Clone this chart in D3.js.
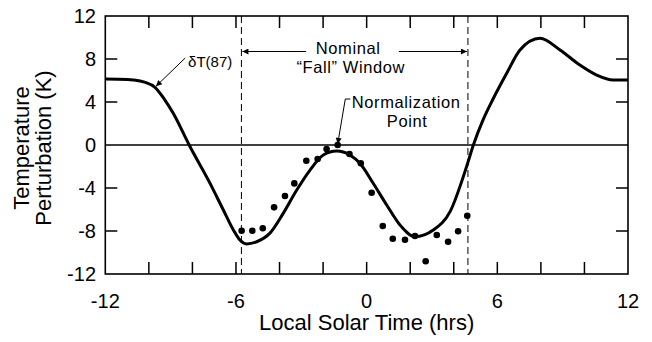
<!DOCTYPE html>
<html>
<head>
<meta charset="utf-8">
<script src="https://cdn.jsdelivr.net/npm/d3@7"></script>
<style>
  body { margin: 0; background: #fff; }
  svg { display: block; font-family: "Liberation Sans", Arial, Helvetica, sans-serif; }
</style>
</head>
<body>
<svg id="chart" width="652" height="342"></svg>
<script>
// model curve dT(87)
const curveHours = [-12, -11, -10.7, -10.2, -9.72, -9.3, -8.88, -8.15, -7.19, -6.58, -6.12, -5.82, -5.51, -5.05,
  -4.44, -3.83, -3.21, -2.6, -1.99, -1.38, -0.77, -0.31, 0.3, 0.92, 1.53, 2.22, 3.06, 3.83, 4.59, 4.9,
  5.36, 5.81, 6.43, 7.04, 7.96, 8.88, 9.79, 10.56, 11.32, 12];
const curveTemps = [6.15, 6.1, 6.05, 5.85, 5.37, 4.3, 2.95, 0, -3.57, -6.05, -7.9, -8.84, -9.2, -9.0,
  -8.2, -6.36, -4.19, -2.33, -0.93, -0.56, -0.93, -1.7, -3.56, -5.58, -7.44, -8.53, -7.91, -6.2, -2.0, 0,
  2.4, 4.3, 6.67, 8.84, 9.93, 8.84, 7.44, 6.51, 6.05, 6.05];

// measured points (dots)
const obsHours = [-5.74, -5.25, -4.77, -4.25, -3.75, -3.32, -2.77, -2.25, -1.84, -1.33, -0.79, -0.27,
  0.23, 0.74, 1.2, 1.76, 2.22, 2.71, 3.22, 3.74, 4.2, 4.62];
const obsTemps = [-7.97, -7.97, -7.75, -5.8, -4.74, -3.57, -1.46, -1.3, -0.37, 0.0, -0.84, -1.7,
  -4.44, -7.53, -8.72, -8.81, -8.47, -10.82, -8.37, -9.0, -8.03, -6.58];

const xTickLabels = [-12, -6, 0, 6, 12];
const yTickLabels = [12, 8, 4, 0, -4, -8, -12];
const windowHours = [-5.75, 4.65]; // nominal "fall" window
const normPoint = [-1.33, 0];

const svg = d3.select('#chart');

const x = d3.scaleLinear().domain([-12, 12]).range([105.3, 628]);
const y = d3.scaleLinear().domain([-12, 12]).range([274, 16]);

// arrow head
svg.append('defs').append('marker')
  .attr('id', 'head')
  .attr('viewBox', '0 0 10 10')
  .attr('refX', 10).attr('refY', 5)
  .attr('markerWidth', 9).attr('markerHeight', 6)
  .attr('markerUnits', 'userSpaceOnUse')
  .attr('orient', 'auto')
  .append('path')
  .attr('d', 'M0,0L10,5L0,10Z')
  .attr('fill', '#000');

// ticks, inward on all four sides
const tickLen = 12;
const g = svg.append('g');

g.selectAll('.xt-b')
  .data(d3.range(-10, 12, 2))
  .enter().append('line')
  .attr('x1', d => x(d)).attr('x2', d => x(d))
  .attr('y1', y(-12)).attr('y2', y(-12) - tickLen)
  .attr('stroke', '#000').attr('stroke-width', 1.5);

g.selectAll('.xt-t')
  .data(d3.range(-10, 12, 2))
  .enter().append('line')
  .attr('x1', d => x(d)).attr('x2', d => x(d))
  .attr('y1', y(12)).attr('y2', y(12) + tickLen)
  .attr('stroke', '#000').attr('stroke-width', 1.5);

g.selectAll('.yt-l')
  .data([8, 4, -4, -8])
  .enter().append('line')
  .attr('x1', x(-12)).attr('x2', x(-12) + tickLen)
  .attr('y1', d => y(d)).attr('y2', d => y(d))
  .attr('stroke', '#000').attr('stroke-width', 1.5);

g.selectAll('.yt-r')
  .data([8, 4, -4, -8])
  .enter().append('line')
  .attr('x1', x(12)).attr('x2', x(12) - tickLen)
  .attr('y1', d => y(d)).attr('y2', d => y(d))
  .attr('stroke', '#000').attr('stroke-width', 1.5);

// frame
svg.append('rect')
  .attr('x', x(-12)).attr('y', y(12))
  .attr('width', x(12) - x(-12)).attr('height', y(-12) - y(12))
  .attr('fill', 'none').attr('stroke', '#000').attr('stroke-width', 1.6);

// zero line
svg.append('line')
  .attr('x1', x(-12)).attr('x2', x(12))
  .attr('y1', y(0)).attr('y2', y(0))
  .attr('stroke', '#000').attr('stroke-width', 1.3);

// dashed window bounds
svg.selectAll('.win')
  .data(windowHours)
  .enter().append('line')
  .attr('x1', d => x(d)).attr('x2', d => x(d))
  .attr('y1', y(12)).attr('y2', y(-12))
  .attr('stroke', '#000').attr('stroke-width', 1)
  .attr('stroke-dasharray', '7,4');

// tick labels
svg.selectAll('.xl')
  .data(xTickLabels)
  .enter().append('text')
  .attr('x', d => x(d)).attr('y', 308)
  .attr('text-anchor', 'middle')
  .attr('font-size', 20)
  .text(d => d);

svg.selectAll('.yl')
  .data(yTickLabels)
  .enter().append('text')
  .attr('x', 96).attr('y', d => y(d))
  .attr('dy', '0.36em')
  .attr('text-anchor', 'end')
  .attr('font-size', 20)
  .text(d => d);

// axis titles
svg.append('text')
  .attr('x', x(0)).attr('y', 330)
  .attr('text-anchor', 'middle')
  .attr('font-size', 22)
  .text('Local Solar Time (hrs)');

const yTitle = svg.append('g').attr('transform', 'translate(0,148) rotate(-90)');
yTitle.append('text').attr('x', 0).attr('y', 29)
  .attr('text-anchor', 'middle').attr('font-size', 22).text('Temperature');
yTitle.append('text').attr('x', 0).attr('y', 51)
  .attr('text-anchor', 'middle').attr('font-size', 22).text('Perturbation (K)');

// curve
const curve = curveHours.map((h, i) => [h, curveTemps[i]]);
svg.append('path')
  .datum(curve)
  .attr('d', d3.line().x(d => x(d[0])).y(d => y(d[1])).curve(d3.curveMonotoneX))
  .attr('fill', 'none').attr('stroke', '#000').attr('stroke-width', 3);

// dots
svg.selectAll('.dot')
  .data(obsHours.map((h, i) => [h, obsTemps[i]]))
  .enter().append('circle')
  .attr('cx', d => x(d[0])).attr('cy', d => y(d[1]))
  .attr('r', 3.3)
  .attr('fill', '#000');

// annotations
svg.append('text')
  .attr('x', x(-8.2)).attr('y', 67)
  .attr('font-size', 15)
  .text('δT(87)');
svg.append('line')
  .attr('x1', x(-8.33)).attr('y1', 58)
  .attr('x2', x(-9.72) + 1).attr('y2', y(5.37) - 1)
  .attr('stroke', '#000').attr('stroke-width', 1)
  .attr('marker-end', 'url(#head)');

// two-line labels: slightly smaller font with a bit of letter spacing so lines don't collide
svg.append('text')
  .attr('x', x(-0.85)).attr('y', 54)
  .attr('text-anchor', 'middle').attr('font-size', 16.5)
  .attr('letter-spacing', 0.6)
  .text('Nominal');
svg.append('text')
  .attr('x', x(-0.73)).attr('y', 73)
  .attr('text-anchor', 'middle').attr('font-size', 16.5)
  .attr('letter-spacing', 0.6)
  .text('\u201cFall\u201d Window');

svg.append('line')
  .attr('x1', x(-2.78)).attr('x2', x(windowHours[0]) + 1)
  .attr('y1', 51.5).attr('y2', 51.5)
  .attr('stroke', '#000').attr('stroke-width', 1)
  .attr('marker-end', 'url(#head)');
svg.append('line')
  .attr('x1', x(1.48)).attr('x2', x(windowHours[1]) - 1)
  .attr('y1', 51.5).attr('y2', 51.5)
  .attr('stroke', '#000').attr('stroke-width', 1)
  .attr('marker-end', 'url(#head)');

svg.append('text')
  .attr('x', x(-0.68)).attr('y', 108)
  .attr('font-size', 16.5)
  .attr('letter-spacing', 0.6)
  .text('Normalization');
svg.append('text')
  .attr('x', x(1.86)).attr('y', 127)
  .attr('text-anchor', 'middle').attr('font-size', 16.5)
  .attr('letter-spacing', 0.6)
  .text('Point');
svg.append('path')
  .attr('d', `M${x(-0.75)},99L${x(-0.98)},99L${x(normPoint[0])},${y(normPoint[1]) - 1}`)
  .attr('fill', 'none').attr('stroke', '#000').attr('stroke-width', 1)
  .attr('marker-end', 'url(#head)');
</script>
</body>
</html>
